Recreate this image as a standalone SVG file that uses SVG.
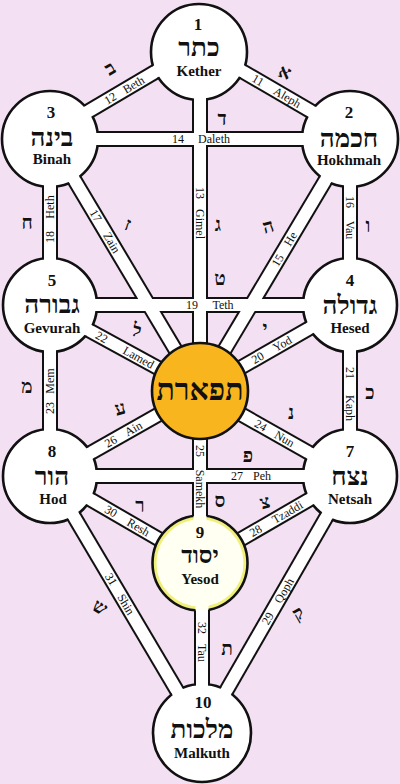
<svg xmlns="http://www.w3.org/2000/svg" width="400" height="784" viewBox="0 0 400 784">
<style>
.bg{fill:#f3e1f3}
.ch-out{stroke:#111;stroke-width:16;fill:none}
.ch-in{stroke:#fff;stroke-width:12;fill:none}
.disc{fill:#fff}
.ring{fill:none;stroke:#111;stroke-width:2.6}
.num{font-family:"Liberation Serif",serif;font-weight:bold;font-size:17px;text-anchor:middle;fill:#111}
.heb{font-family:"Liberation Serif","DejaVu Sans",serif;font-weight:bold;font-size:26px;text-anchor:middle;fill:#111}
.name{font-family:"Liberation Serif",serif;font-weight:bold;font-size:15px;text-anchor:middle;fill:#111}
.lbl{font-family:"Liberation Serif",serif;font-size:12px;text-anchor:middle;dominant-baseline:central;fill:#111}
.let{font-family:"Liberation Serif","DejaVu Sans",serif;font-weight:bold;font-size:19px;text-anchor:middle;dominant-baseline:central;fill:#111}
</style>
<defs>
<g id="chan">
<line id="c11" x1="199" y1="46" x2="350" y2="134"/>
<line id="c12" x1="199" y1="46" x2="50" y2="134"/>
<line id="c13" x1="200" y1="52" x2="200" y2="391"/>
<line id="c14" x1="50" y1="139" x2="350" y2="139"/>
<line id="c15" x1="350" y1="139" x2="200" y2="391"/>
<line id="c16" x1="350" y1="139" x2="350" y2="305"/>
<line id="c17" x1="50" y1="139" x2="200" y2="391"/>
<line id="c18" x1="50" y1="139" x2="50" y2="305"/>
<line id="c19" x1="50" y1="305" x2="350" y2="305"/>
<line id="c20" x1="350" y1="305" x2="200" y2="391"/>
<line id="c21" x1="350" y1="305" x2="350" y2="476"/>
<line id="c22" x1="50" y1="309" x2="200" y2="391"/>
<line id="c23" x1="50" y1="305" x2="50" y2="476"/>
<line id="c24" x1="350" y1="476" x2="200" y2="391"/>
<line id="c25" x1="200" y1="391" x2="200" y2="563"/>
<line id="c26" x1="50" y1="476" x2="200" y2="391"/>
<line id="c27" x1="50" y1="476" x2="350" y2="476"/>
<line id="c28" x1="350" y1="476" x2="200" y2="563"/>
<line id="c29" x1="350" y1="476" x2="202" y2="733"/>
<line id="c30" x1="50" y1="476" x2="200" y2="563"/>
<line id="c31" x1="50" y1="476" x2="202" y2="733"/>
<line id="c32" x1="202" y1="563" x2="202" y2="733"/>
</g>
<mask id="m-open" maskUnits="userSpaceOnUse" x="0" y="0" width="400" height="784">
<rect width="400" height="784" fill="#fff"/>
<use href="#chan" stroke="#000" stroke-width="12" fill="none"/>
</mask>
<mask id="m-yesod" maskUnits="userSpaceOnUse" x="0" y="0" width="400" height="784">
<rect width="400" height="784" fill="#fff"/>
<use href="#c25" stroke="#000" stroke-width="13"/>
<use href="#c32" stroke="#000" stroke-width="13"/>
</mask>
</defs>

<rect class="bg" width="400" height="784"/>

<g id="connectors">
<use href="#chan" class="ch-out"/>
<use href="#chan" class="ch-in"/>
<g id="path-labels">
<text class="lbl" transform="translate(257.9,80.3) rotate(30.2)">11</text>
<text class="lbl" transform="translate(287.3,97.4) rotate(30.2)">Aleph</text>
<text class="lbl" transform="translate(110.3,98.4) rotate(-30.6)">12</text>
<text class="lbl" transform="translate(133.6,84.7) rotate(-30.6)">Beth</text>
<text class="lbl" transform="translate(200,193) rotate(90)">13</text>
<text class="lbl" transform="translate(200,224) rotate(90)">Gimel</text>
<text class="lbl" x="178" y="139">14</text>
<text class="lbl" x="214" y="139">Daleth</text>
<text class="lbl" transform="translate(277.7,260.4) rotate(-59.2)">15</text>
<text class="lbl" transform="translate(290.5,238.9) rotate(-59.2)">He</text>
<text class="lbl" transform="translate(350,202) rotate(90)">16</text>
<text class="lbl" transform="translate(350,230) rotate(90)">Vau</text>
<text class="lbl" transform="translate(95.7,215.7) rotate(59.2)">17</text>
<text class="lbl" transform="translate(111.7,242.7) rotate(59.2)">Zain</text>
<text class="lbl" transform="translate(50,237) rotate(-90)">18</text>
<text class="lbl" transform="translate(50,207) rotate(-90)">Heth</text>
<text class="lbl" x="192" y="305">19</text>
<text class="lbl" x="223" y="305">Teth</text>
<text class="lbl" transform="translate(257.7,357.9) rotate(-29.8)">20</text>
<text class="lbl" transform="translate(282.3,343.8) rotate(-29.8)">Yod</text>
<text class="lbl" transform="translate(350,373) rotate(90)">21</text>
<text class="lbl" transform="translate(350,408) rotate(90)">Kaph</text>
<text class="lbl" transform="translate(101.6,337.2) rotate(28.7)">22</text>
<text class="lbl" transform="translate(138.5,357.4) rotate(28.7)">Lamed</text>
<text class="lbl" transform="translate(50,408) rotate(-90)">23</text>
<text class="lbl" transform="translate(50,381) rotate(-90)">Mem</text>
<text class="lbl" transform="translate(260.6,425.4) rotate(29.5)">24</text>
<text class="lbl" transform="translate(284.5,438.9) rotate(29.5)">Nun</text>
<text class="lbl" transform="translate(200,451) rotate(90)">25</text>
<text class="lbl" transform="translate(200,489) rotate(90)">Samekh</text>
<text class="lbl" transform="translate(110.8,441.5) rotate(-29.5)">26</text>
<text class="lbl" transform="translate(133.4,428.7) rotate(-29.5)">Ain</text>
<text class="lbl" x="237" y="476">27</text>
<text class="lbl" x="262" y="476">Peh</text>
<text class="lbl" transform="translate(255.7,530.7) rotate(-30.1)">28</text>
<text class="lbl" transform="translate(287.4,512.3) rotate(-30.1)">Tzaddi</text>
<text class="lbl" transform="translate(267.9,618.5) rotate(-60)">29</text>
<text class="lbl" transform="translate(284,590.6) rotate(-60)">Qoph</text>
<text class="lbl" transform="translate(111,511.4) rotate(30.1)">30</text>
<text class="lbl" transform="translate(138.4,527.3) rotate(30.1)">Resh</text>
<text class="lbl" transform="translate(111.1,579.3) rotate(59.4)">31</text>
<text class="lbl" transform="translate(126,604.4) rotate(59.4)">Shin</text>
<text class="lbl" transform="translate(202,628) rotate(90)">32</text>
<text class="lbl" transform="translate(202,653) rotate(90)">Tau</text>
</g>
<g id="path-letters">
<text class="let" transform="translate(110,68) rotate(-30)">ב</text>
<text class="let" transform="translate(285,72) rotate(20)">א</text>
<text class="let" x="222" y="118">ד</text>
<text class="let" x="218" y="224">ג</text>
<text class="let" transform="translate(128,224) rotate(20)">ז</text>
<text class="let" transform="translate(268,226) rotate(-15)">ה</text>
<text class="let" x="368" y="225">ו</text>
<text class="let" x="27" y="222">ח</text>
<text class="let" x="220" y="278">ט</text>
<text class="let" transform="translate(137,330) rotate(15)">ל</text>
<text class="let" x="265" y="328">י</text>
<text class="let" x="27" y="386">מ</text>
<text class="let" x="370" y="392">כ</text>
<text class="let" transform="translate(120,408) rotate(-15)">ע</text>
<text class="let" x="291" y="412">נ</text>
<text class="let" x="248" y="455">פ</text>
<text class="let" x="140" y="505">ר</text>
<text class="let" x="220" y="500">ס</text>
<text class="let" transform="translate(265,502) rotate(-15)">צ</text>
<text class="let" transform="translate(100,607) rotate(30)">ש</text>
<text class="let" transform="translate(298,613) rotate(-30)">ק</text>
<text class="let" x="227" y="648">ת</text>
</g>
</g>

<g id="kether">
<circle class="disc" cx="199" cy="52" r="48"/>
<circle class="ring" cx="199" cy="52" r="48" mask="url(#m-open)"/>
<text class="num" x="198" y="30">1</text>
<text class="heb" x="199" y="56">כתר</text>
<text class="name" x="199" y="76">Kether</text>
</g>
<g id="hokhmah">
<circle class="disc" cx="350" cy="139" r="48"/>
<circle class="ring" cx="350" cy="139" r="48" mask="url(#m-open)"/>
<text class="num" x="349" y="118">2</text>
<text class="heb" x="349" y="147">חכמה</text>
<text class="name" x="349" y="165">Hokhmah</text>
</g>
<g id="binah">
<circle class="disc" cx="50" cy="139" r="48"/>
<circle class="ring" cx="50" cy="139" r="48" mask="url(#m-open)"/>
<text class="num" x="51" y="118">3</text>
<text class="heb" x="52" y="146">בינה</text>
<text class="name" x="52" y="164">Binah</text>
</g>
<g id="hesed">
<circle class="disc" cx="350" cy="305" r="47"/>
<circle class="ring" cx="350" cy="305" r="47" mask="url(#m-open)"/>
<text class="num" x="350" y="286">4</text>
<text class="heb" x="350" y="314">גדולה</text>
<text class="name" x="350" y="333">Hesed</text>
</g>
<g id="gevurah">
<circle class="disc" cx="50" cy="305" r="47"/>
<circle class="ring" cx="50" cy="305" r="47" mask="url(#m-open)"/>
<text class="num" x="52" y="286">5</text>
<text class="heb" x="52" y="313">גבורה</text>
<text class="name" x="52" y="333">Gevurah</text>
</g>
<g id="tiphareth">
<circle cx="200" cy="391" r="48" fill="#f8b51d" stroke="#111" stroke-width="2.6"/>
<text class="heb" x="200" y="400" style="font-size:30px">תפארת</text>
</g>
<g id="netsah">
<circle class="disc" cx="350" cy="476" r="47"/>
<circle class="ring" cx="350" cy="476" r="47" mask="url(#m-open)"/>
<text class="num" x="350" y="457">7</text>
<text class="heb" x="350" y="485">נצח</text>
<text class="name" x="350" y="504">Netsah</text>
</g>
<g id="hod">
<circle class="disc" cx="50" cy="476" r="47"/>
<circle class="ring" cx="50" cy="476" r="47" mask="url(#m-open)"/>
<text class="num" x="52" y="457">8</text>
<text class="heb" x="52" y="485">הור</text>
<text class="name" x="53" y="504">Hod</text>
</g>
<g id="yesod">
<circle cx="200" cy="563" r="47.5" fill="#fffff2"/>
<g mask="url(#m-yesod)">
<circle cx="200" cy="563" r="45" fill="none" stroke="#f0ef7a" stroke-width="3"/>
<circle cx="200" cy="563" r="47.5" fill="none" stroke="#111" stroke-width="2.6"/>
</g>
<text class="num" x="200" y="538">9</text>
<text class="heb" x="200" y="563" style="font-size:24px">יסוד</text>
<text class="name" x="200" y="584">Yesod</text>
</g>
<g id="malkuth">
<circle class="disc" cx="202" cy="733" r="49"/>
<circle class="ring" cx="202" cy="733" r="49" mask="url(#m-open)"/>
<text class="num" x="203" y="708">10</text>
<text class="heb" x="202" y="738">מלכות</text>
<text class="name" x="202" y="758">Malkuth</text>
</g>
</svg>
